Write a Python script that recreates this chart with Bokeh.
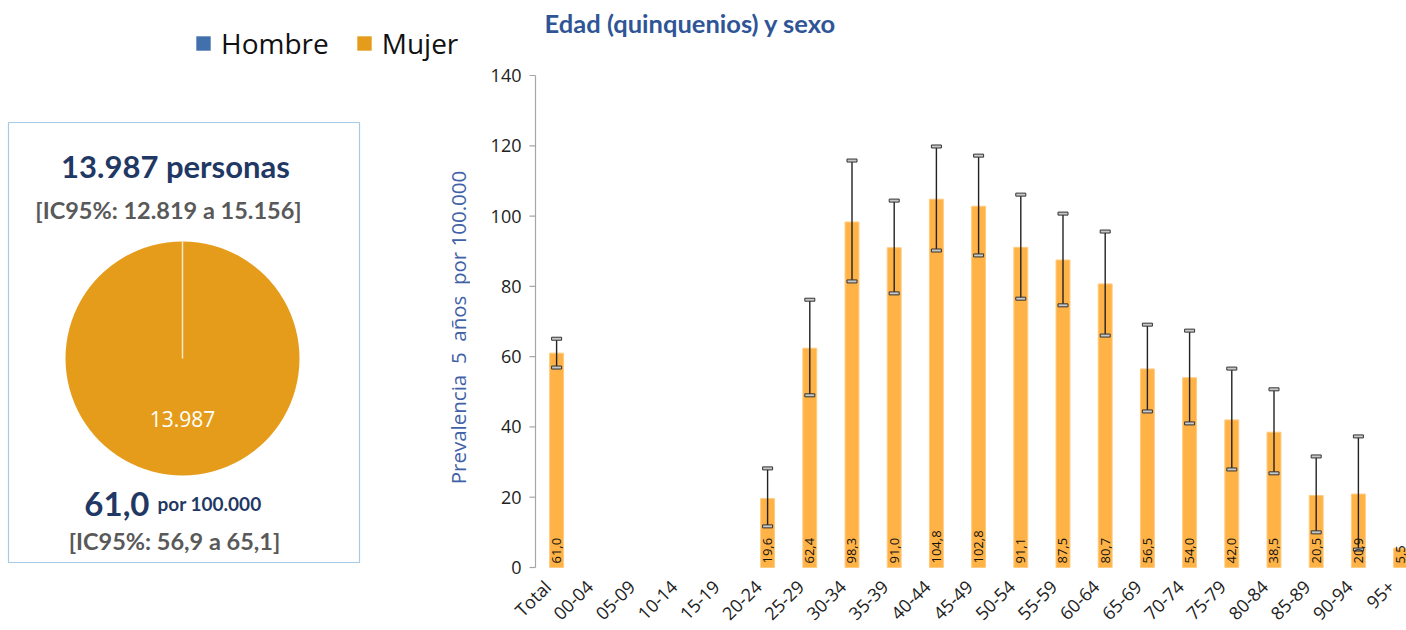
import math
from bokeh.plotting import figure
from bokeh.models import (Range1d, Label, Legend, LegendItem, ColumnDataSource)
from bokeh.layouts import row
from bokeh.core.properties import value
from bokeh.embed import file_html
from bokeh.resources import INLINE

# ---------------- data ----------------
categories = ["Total", "00-04", "05-09", "10-14", "15-19", "20-24", "25-29", "30-34",
              "35-39", "40-44", "45-49", "50-54", "55-59", "60-64", "65-69", "70-74",
              "75-79", "80-84", "85-89", "90-94", "95+"]
prevalence = [61.0, None, None, None, None, 19.6, 62.4, 98.3, 91.0, 104.8, 102.8,
              91.1, 87.5, 80.7, 56.5, 54.0, 42.0, 38.5, 20.5, 20.9, 5.5]
ci_low = [56.9, None, None, None, None, 11.7, 49.0, 81.4, 78.0, 90.2, 88.8,
          76.5, 74.6, 66.0, 44.4, 41.0, 27.9, 26.8, 10.0, 5.1, None]
ci_high = [65.1, None, None, None, None, 28.2, 76.2, 115.8, 104.4, 119.8, 117.2,
           106.1, 100.7, 95.6, 69.1, 67.4, 56.6, 50.7, 31.6, 37.3, None]
yticks = [0, 20, 40, 60, 80, 100, 120, 140]

pie_labels = ["Hombre", "Mujer"]
pie_values = [0, 13987]
pie_colors = ["#4170AD", "#E59C1A"]

total_persons = "13.987 personas"
total_ci = "[IC95%: 12.819 a 15.156]"
pie_text = "13.987"
rate_text = "61,0"
rate_unit = "por 100.000"
rate_ci = "[IC95%: 56,9 a 65,1]"
chart_title = "Edad (quinquenios) y sexo"
y_label = "Prevalencia\u00a0\u00a05\u00a0\u00a0años\u00a0\u00a0por 100.000"

NAVY = "#1F3864"
GREY = "#595959"
BAR = "#FFB347"
AXIS = "#A6A6A6"

H = 630
AX_TOP, AX_BOT = 75, 567          # page rows of the value axis top/bottom
AX_X = 535                        # page column of the value axis
LW = 470                          # width of the left panel

# ---------------- left panel (data x = page x, data y = 630 - page y) ----------------
left = figure(frame_width=LW, frame_height=H, x_range=Range1d(0, LW), y_range=Range1d(0, H),
              output_backend="svg", toolbar_location=None, min_border=0)
left.axis.visible = False
left.grid.visible = False
left.outline_line_color = None

# box
left.quad(left=8, right=359, bottom=68, top=508, fill_color=None,
          line_color="#A9CBE8", line_width=1.2)

# pie
total = sum(pie_values)
starts, ends = [], []
acc = 0.0
for v in pie_values:
    a0 = math.pi / 2 - acc / total * 2 * math.pi
    acc += v
    a1 = math.pi / 2 - acc / total * 2 * math.pi
    if a0 - a1 > 2 * math.pi - 1e-3:
        a1 = a0 - (2 * math.pi - 1e-3)
    starts.append(a1)
    ends.append(a0)
wedges = []
for i in range(len(pie_values)):
    src = ColumnDataSource(dict(x=[182], y=[272], start=[starts[i]], end=[ends[i]],
                                color=[pie_colors[i]]))
    rad = 117 if pie_values[i] > 0 else 0
    r = left.wedge(x="x", y="y", radius=rad, start_angle="start", end_angle="end",
                   fill_color="color", line_color=None, source=src)
    wedges.append(r)
    if pie_values[i] > 0:
        left.segment(x0=[182], y0=[272], x1=[182 + 117 * math.cos(ends[i])],
                     y1=[272 + 117 * math.sin(ends[i])], line_color="#F6E7CC", line_width=1.5)

legend = Legend(items=[LegendItem(label=pie_labels[i], renderers=[wedges[i]])
                       for i in range(len(pie_labels))],
                orientation="horizontal", location=(194, 568),
                glyph_width=18, glyph_height=18, label_text_font_size="28px",
                label_text_font="Open Sans", label_text_color="#111111",
                spacing=26, padding=0, border_line_color=None, background_fill_alpha=0,
                label_standoff=9, margin=0, label_text_baseline="middle")
left.add_layout(legend)


def lab(p, x, y, text, size, color, bold=True, font="Lato", align="center", angle=0.0,
        baseline="middle"):
    p.add_layout(Label(x=x, y=y, text=text, text_font_size=size, text_color=color,
                       text_font_style="bold" if bold else "normal", text_font=font,
                       text_align=align, text_baseline=baseline, angle=angle))


lab(left, 175, 465, total_persons, "31px", NAVY)
lab(left, 168, 421, total_ci, "23.5px", GREY)
lab(left, 182, 212, pie_text, "21px", "white", bold=False, font="Open Sans")
lab(left, 149, 127, rate_text, "33px", NAVY, align="right", baseline="alphabetic")
lab(left, 157, 127, rate_unit, "19px", NAVY, align="left", baseline="alphabetic")
lab(left, 174, 90, rate_ci, "23.5px", GREY)
lab(left, 457, 303, y_label, "20.5px", "#3F62A8", bold=False, font="Open Sans",
    angle=math.pi / 2)

# ---------------- right chart ----------------
X_END = 20.14
spacing = (1406 - AX_X) / (X_END + 0.5)
x_start = -0.5 - (AX_X - LW) / spacing
ppu = (AX_BOT - AX_TOP) / (yticks[-1] - yticks[0])
y_start = yticks[0] - (H - AX_BOT) / ppu
y_end = yticks[-1] + AX_TOP / ppu

xs = list(range(len(categories)))
nan = float("nan")
bar_src = ColumnDataSource(dict(
    x=xs,
    top=[v if v is not None else nan for v in prevalence],
    lo=[v if v is not None else nan for v in ci_low],
    hi=[v if v is not None else nan for v in ci_high],
    txt=[("%.1f" % v).replace(".", ",") if v is not None else "" for v in prevalence],
    cat=categories,
))
tick_src = ColumnDataSource(dict(x=[-0.5] * len(yticks), y=yticks,
                                 t=[str(t) for t in yticks]))

p = figure(frame_width=1406 - LW, frame_height=H, x_range=Range1d(x_start, X_END),
           y_range=Range1d(y_start, y_end),
           output_backend="svg", toolbar_location=None, min_border=0)
p.grid.visible = False
p.outline_line_color = None
p.axis.visible = False

p.vbar(x="x", top="top", width=0.33, fill_color=BAR, line_color="#FFCB80",
       line_width=1, source=bar_src)
p.segment(x0="x", y0="lo", x1="x", y1="hi", line_color="#222222", line_width=1.4,
          source=bar_src)
for col in ("lo", "hi"):
    p.rect(x="x", y=col, width=10, height=3, width_units="screen", height_units="screen",
           fill_color="#C8C8C8", line_color="#333333", line_width=1, source=bar_src)

# value labels inside bars
p.text(x="x", y=0, text="txt", angle=math.pi / 2, y_offset=-4, text_align="left",
       text_baseline="middle", text_font_size="13px", text_font=value("Open Sans"),
       text_color="#111111", source=bar_src)

# category labels (rotated)
p.text(x="x", y=0, text="cat", angle=math.pi / 4, x_offset=-9, y_offset=16,
       text_align="right", text_baseline="middle", text_font_size="18px",
       text_font=value("Open Sans"), text_color="#222222", source=bar_src)

# value axis: line, outward ticks, labels
p.segment(x0=[-0.5], y0=[yticks[0]], x1=[-0.5], y1=[yticks[-1]],
          line_color=AXIS, line_width=1.2)
p.ray(x="x", y="y", length=6, length_units="screen", angle=math.pi,
      line_color=AXIS, line_width=1.2, source=tick_src)
p.text(x="x", y="y", text="t", x_offset=-14, text_align="right", text_baseline="middle",
       text_font_size="18px", text_font=value("Open Sans"), text_color="#222222",
       source=tick_src)

p.add_layout(Label(x=690 - LW, y=H - 22, x_units="screen", y_units="screen",
                   text=chart_title, text_font_size="25.5px", text_font_style="bold",
                   text_font="Lato", text_color="#2F5597", text_align="center",
                   text_baseline="middle"))

layout = row(left, p, spacing=0)
open("out.html", "w").write(file_html(layout, INLINE))
